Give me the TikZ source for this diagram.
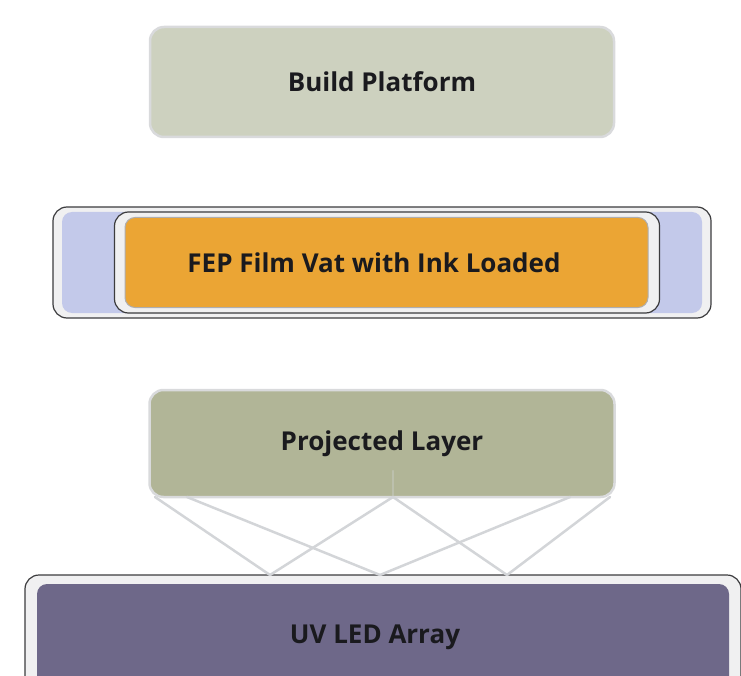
\documentclass[tikz,border=0pt]{standalone}
\usepackage{fontspec}
\newfontfamily\labelfont{Open Sans}
\usetikzlibrary{calc, positioning}
\definecolor{PlatformGray}{HTML}{CDD1BF}
\definecolor{VatBlue}{HTML}{C3C9EA}
\definecolor{InkOrange}{HTML}{EBA534}
\definecolor{LayerOlive}{HTML}{B1B597}
\definecolor{LedPurple}{HTML}{6E6889}
\definecolor{FrameGray}{HTML}{D9DADC}
\definecolor{EdgeDark}{HTML}{3C3C3E}
\definecolor{BeamGray}{HTML}{D3D5D8}
\definecolor{LabelInk}{HTML}{1A1A1E}
\tikzset{%
  labeltext/.style={%
    font={\labelfont\bfseries\fontsize{26}{30}\selectfont},%
    text=LabelInk,%
    align=center%
  },
  panel/.style={%
    rectangle,%
    rounded corners=14pt,%
    draw=FrameGray,%
    line width=2.5pt,%
    inner sep=0pt,%
    outer sep=0pt,%
    labeltext%
  },
  tray/.style={%
    rectangle,%
    rounded corners=14pt,%
    draw=EdgeDark,%
    fill=FrameGray!40,%
    line width=1.2pt,%
    inner sep=0pt,%
    outer sep=0pt%
  },
  beam/.style={%
    draw=BeamGray,%
    line width=2.5pt,%
    line cap=round%
  },
}
\begin{document}
\begin{tikzpicture}[x=1pt, y=1pt]

    \useasboundingbox (0,0) rectangle (741,-676);
    \clip (0,0) rectangle (741,-676);

    \node [panel, fill=PlatformGray, minimum width=464, minimum height=110]
      (build) at (382,-82) {Build Platform};

    % vat: outer tray, blue walls, inner frame, ink
    \node [tray, minimum width=658, minimum height=111, below = 70 of build] (vat) {};
    \node [tray, draw=none, fill=VatBlue, rounded corners=10pt,
      minimum width=640, minimum height=101] (walls) at (vat.center) {};
    \node [tray, minimum width=545, minimum height=101] (vatframe)
      at ([xshift=5]vat.center) {};
    \node [panel, fill=InkOrange, draw=FrameGray!80!black, line width=1pt,
      rounded corners=10pt, minimum width=523, minimum height=90,
      label={[labeltext, xshift=-12.5]center:FEP Film Vat with Ink Loaded}]
      (ink) at ([xshift=4.5]vat.center) {};

    \node [panel, fill=LayerOlive, minimum width=465, minimum height=107,
      below = 72 of vat] (proj) {Projected Layer};

    \node [tray, fill=FrameGray!40, minimum width=716, minimum height=116,
      below = 78 of proj, xshift=1] (uvframe) {};
    \node [panel, draw=none, fill=LedPurple, rounded corners=10pt,
      minimum width=692, minimum height=106,
      label={[labeltext, xshift=-8]center:UV LED Array}] (uv)
      at ([yshift=-4]uvframe.center) {};

    % light paths from the array up to the layer
    \foreach \top/\bottom in {-227/-112, -195/-2, 11/-112, 11/125, 188/-2, 228/125}
      \draw [beam]
        ($(proj.south)+(\top,0)$)
        --
        ($(proj.south |- uvframe.north)+(\bottom,0)$);
    \draw [beam, opacity=0.35]
      ($(proj.south)+(11,0)$)
      --
      +(0,26);

  \end{tikzpicture}
\end{document}
